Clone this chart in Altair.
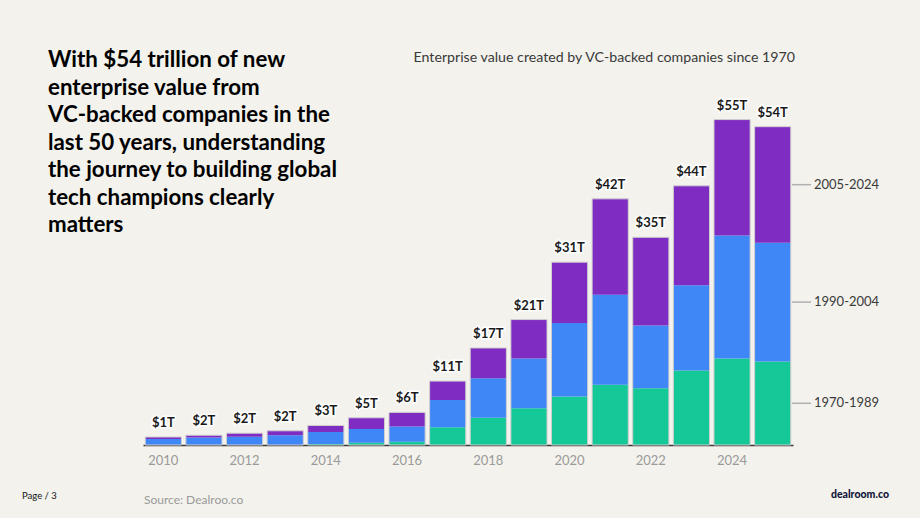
import altair as alt
import pandas as pd

years = list(range(2010, 2026))
seg_1970_1989 = [0.0, 0.0, 0.0, 0.0, 0.15, 0.4, 0.56, 3.0, 4.6, 6.2, 8.2, 10.2, 9.6, 12.6, 14.6, 14.1]
seg_1990_2004 = [1.0, 1.25, 1.4, 1.65, 2.05, 2.3, 2.55, 4.6, 6.7, 8.4, 12.4, 15.2, 10.6, 14.4, 20.8, 20.1]
seg_2005_2024 = [0.35, 0.4, 0.6, 0.75, 1.1, 1.9, 2.4, 3.2, 5.1, 6.6, 10.3, 16.2, 14.9, 16.8, 19.6, 19.6]
total_labels = ["$1T", "$2T", "$2T", "$2T", "$3T", "$5T", "$6T", "$11T", "$17T",
                "$21T", "$31T", "$42T", "$35T", "$44T", "$55T", "$54T"]
series_names = ["1970-1989", "1990-2004", "2005-2024"]
series_colors = ["#14C897", "#3F86F7", "#7E2CC2"]

headline = ["With $54 trillion of new", "enterprise value from", "VC-backed companies in the",
            "last 50 years, understanding", "the journey to building global",
            "tech champions clearly", "matters"]
title_text = "Enterprise value created by VC-backed companies since 1970"

series_values = [seg_1970_1989, seg_1990_2004, seg_2005_2024]
rows = []
for si, (name, vals) in enumerate(zip(series_names, series_values)):
    for y, v in zip(years, vals):
        rows.append({"year": y, "series": name, "value": v, "order": si})
df = pd.DataFrame(rows)

totals = pd.DataFrame({
    "year": years,
    "total": [a + b + c for a, b, c in zip(seg_1970_1989, seg_1990_2004, seg_2005_2024)],
    "label": total_labels,
})

# right-side labels at the midpoint of the last bar's segments
last = [s[-1] for s in series_values]
mids, cum = [], 0.0
for v in last:
    mids.append(cum + v / 2)
    cum += v
side = pd.DataFrame({"series": series_names, "mid": mids})

FONT = "Lato"
W, H = 650, 355
ymax = 60

x_enc = alt.X("year:O", scale=alt.Scale(paddingInner=0.11, paddingOuter=0.055),
              axis=alt.Axis(title=None, labelAngle=0, ticks=False, domainColor="#3a3a3a",
                            domainWidth=1.5, labelColor="#9a9a9a", labelFontSize=13,
                            labelFont=FONT, labelPadding=9,
                            labelExpr="datum.value % 2 == 0 ? datum.label : ''"))
y_scale = alt.Scale(domain=[0, ymax])

bars = alt.Chart(df).mark_bar().encode(
    x=x_enc,
    y=alt.Y("value:Q", stack="zero", scale=y_scale, axis=None),
    color=alt.Color("series:N", scale=alt.Scale(domain=series_names, range=series_colors), legend=None),
    order=alt.Order("order:Q"),
)

outline = alt.Chart(totals).mark_bar(fillOpacity=0, stroke="#cfcfcf", strokeWidth=1).encode(
    x=alt.X("year:O"),
    y=alt.Y("total:Q", scale=y_scale),
)

lab_halo = alt.Chart(totals).mark_text(dy=-10, baseline="alphabetic", font=FONT, fontSize=13,
                                      fontWeight="bold", stroke="white", strokeWidth=3,
                                      color="white").encode(
    x="year:O", y=alt.Y("total:Q", scale=y_scale), text="label:N")
lab = alt.Chart(totals).mark_text(dy=-10, baseline="alphabetic", font=FONT, fontSize=13,
                                 fontWeight="bold", color="#1a1a1a").encode(
    x="year:O", y=alt.Y("total:Q", scale=y_scale), text="label:N")

side_ticks = alt.Chart(side).mark_rule(color="#b0b0b0", strokeWidth=1.5).encode(
    x=alt.value(649), x2=alt.value(668), y=alt.Y("mid:Q", scale=y_scale))
side_text = alt.Chart(side).mark_text(align="left", baseline="middle", font=FONT, fontSize=13,
                                      color="#3a3a3a").encode(
    x=alt.value(671), y=alt.Y("mid:Q", scale=y_scale), text="series:N")

head = alt.Chart(pd.DataFrame({"t": [headline]})).mark_text(
    align="left", baseline="alphabetic", font=FONT, fontSize=22.3, fontWeight="bold",
    lineHeight=27.5, color="#000000").encode(
    x=alt.value(-95), y=alt.value(-23), text="t")

title = alt.Chart(pd.DataFrame({"t": [title_text]})).mark_text(
    align="right", baseline="alphabetic", font=FONT, fontSize=14.2, color="#3a3a3a").encode(
    x=alt.value(652), y=alt.value(-28), text="t")

footer_page = alt.Chart(pd.DataFrame({"t": ["Page / 3"]})).mark_text(
    align="left", baseline="alphabetic", font=FONT, fontSize=9.5, color="#111111").encode(
    x=alt.value(-121), y=alt.value(409), text="t")
footer_src = alt.Chart(pd.DataFrame({"t": ["Source: Dealroo.co"]})).mark_text(
    align="left", baseline="alphabetic", font=FONT, fontSize=12, color="#9a9a9a").encode(
    x=alt.value(1), y=alt.value(414), text="t")
footer_brand = alt.Chart(pd.DataFrame({"t": ["dealroom.co"]})).mark_text(
    align="right", baseline="alphabetic", font=FONT, fontSize=10.5, fontWeight=900,
    color="#14163a").encode(
    x=alt.value(746), y=alt.value(408), text="t")

chart = alt.layer(
    bars, outline, lab_halo, lab, side_ticks, side_text, head, title,
    footer_page, footer_src, footer_brand
).properties(
    width=W, height=H,
    autosize=alt.AutoSizeParams(type="none"),
    padding={"left": 143, "top": 90, "right": 127, "bottom": 73},
    background="#F3F2EC",
).configure_view(stroke=None)

chart.save("out.html", embed_options={"renderer": "svg", "actions": False})
